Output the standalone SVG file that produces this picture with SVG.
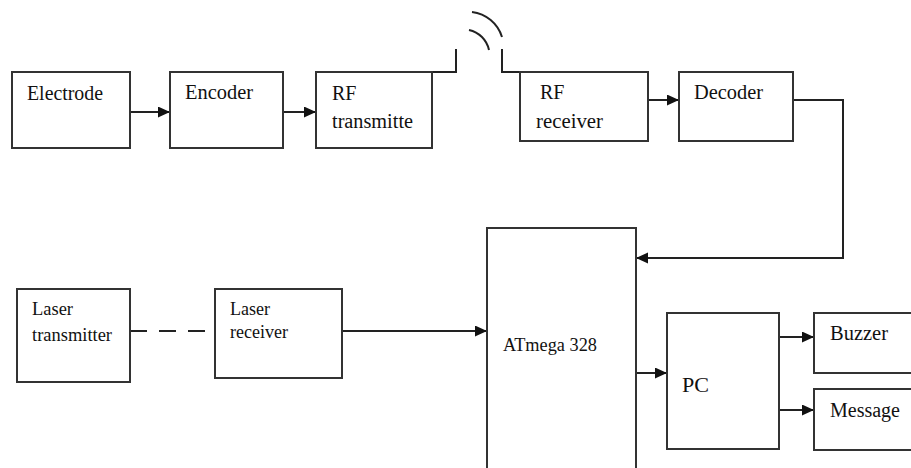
<svg xmlns="http://www.w3.org/2000/svg" width="911" height="468" viewBox="0 0 911 468">
<defs>
<marker id="ah" markerUnits="userSpaceOnUse" markerWidth="13" markerHeight="12" refX="12" refY="5.5" orient="auto">
<path d="M0,0 L12,5.5 L0,11 z" fill="#111"/>
</marker>
<style>
.box{fill:#fff;stroke:#333;stroke-width:2}
.ln{fill:none;stroke:#222;stroke-width:2}
.arr{fill:none;stroke:#222;stroke-width:2;marker-end:url(#ah)}
text{font-family:"Times New Roman","Liberation Serif","DejaVu Serif",serif;font-size:20px;fill:#111}
.s{font-size:18px}
</style>
</defs>
<rect width="911" height="468" fill="#fff"/>
<g id="connectors">
<path class="arr" d="M130,112 H170"/>
<path class="arr" d="M283,112 H316"/>
<path class="ln" d="M432,72 H456 V49"/>
<path class="ln" d="M502,49 V72 H520"/>
<path class="ln" d="M469,30 A26,26 0 0 1 489,50"/>
<path class="ln" d="M472,12 A36,36 0 0 1 502,37"/>
<path class="arr" d="M648,100 H679"/>
<path class="arr" d="M793,100 H843 V258 H636"/>
<path class="ln" d="M130,331 H215" stroke-dasharray="17 12"/>
<path class="arr" d="M342,331 H487"/>
<path class="arr" d="M636,373 H667"/>
<path class="arr" d="M779,337 H814"/>
<path class="arr" d="M779,410 H814"/>
</g>
<g id="electrode"><rect class="box" x="12" y="72" width="118" height="76"/><text x="27" y="100" textLength="76" lengthAdjust="spacingAndGlyphs">Electrode</text></g>
<g id="encoder"><rect class="box" x="170" y="72" width="113" height="76"/><text x="185" y="99" textLength="68" lengthAdjust="spacingAndGlyphs">Encoder</text></g>
<g id="rf-transmitter"><rect class="box" x="316" y="72" width="116" height="76"/><text x="332" y="100">RF</text><text x="332" y="128" textLength="81" lengthAdjust="spacingAndGlyphs">transmitte</text></g>
<g id="rf-receiver"><rect class="box" x="520" y="72" width="128" height="69"/><text x="540" y="99">RF</text><text x="536" y="128" textLength="67" lengthAdjust="spacingAndGlyphs">receiver</text></g>
<g id="decoder"><rect class="box" x="679" y="72" width="114" height="69"/><text x="694" y="99" textLength="69" lengthAdjust="spacingAndGlyphs">Decoder</text></g>
<g id="laser-transmitter"><rect class="box" x="17" y="289" width="113" height="93"/><text class="s" x="32" y="315" textLength="41" lengthAdjust="spacingAndGlyphs">Laser</text><text class="s" x="32" y="341" textLength="80" lengthAdjust="spacingAndGlyphs">transmitter</text></g>
<g id="laser-receiver"><rect class="box" x="215" y="289" width="127" height="89"/><text class="s" x="230" y="315" textLength="40" lengthAdjust="spacingAndGlyphs">Laser</text><text class="s" x="230" y="338" textLength="58" lengthAdjust="spacingAndGlyphs">receiver</text></g>
<g id="atmega"><rect class="box" x="487" y="228" width="149" height="260"/><text class="s" x="503" y="351" textLength="94" lengthAdjust="spacingAndGlyphs">ATmega 328</text></g>
<g id="pc"><rect class="box" x="667" y="313" width="112" height="136"/><text x="682" y="392" textLength="27" lengthAdjust="spacingAndGlyphs">PC</text></g>
<g id="buzzer"><rect class="box" x="814" y="313" width="110" height="60"/><text x="830" y="340" textLength="58" lengthAdjust="spacingAndGlyphs">Buzzer</text></g>
<g id="message"><rect class="box" x="814" y="389" width="110" height="61"/><text x="830" y="417" textLength="70" lengthAdjust="spacingAndGlyphs">Message</text></g>
</svg>
